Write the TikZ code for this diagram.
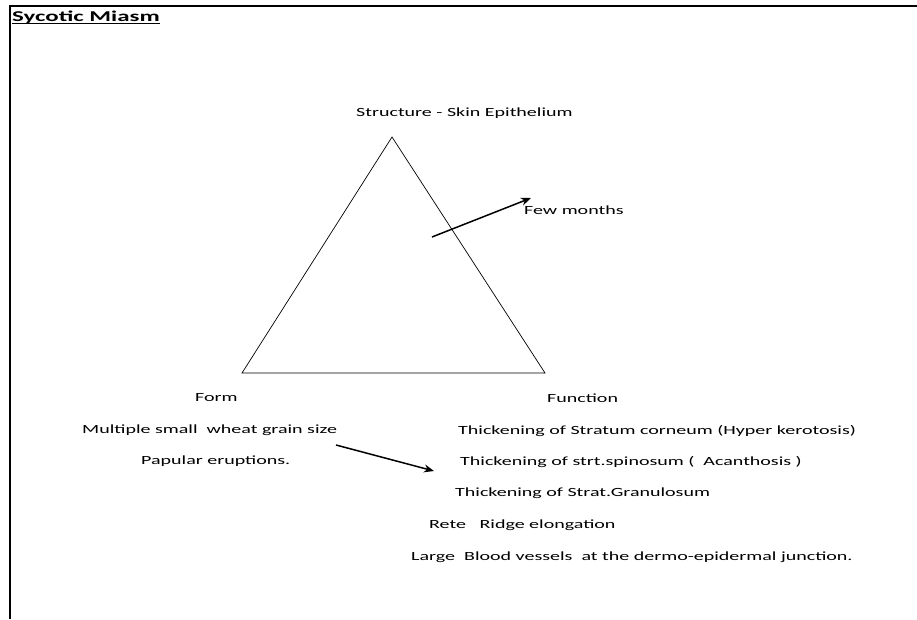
\documentclass[tikz,border=0pt]{standalone}
\usepackage{fontspec}
\setmainfont{Carlito}[FakeStretch=1.6]
\newfontfamily\titlefont{Carlito}[FakeStretch=1.66]
\usetikzlibrary{arrows.meta}
\begin{document}
\begin{tikzpicture}[x=1pt,y=-1pt,
  lbl/.style={anchor=west,inner sep=0pt,font=\fontsize{12.5}{14}\selectfont},
  arr/.style={line width=1.5pt,-{Stealth[length=10pt,width=8pt]}},
  tri/.style={line width=0.7pt}]
\useasboundingbox (0,0) rectangle (917,619);
\fill[white] (0,0) rectangle (917,619);
\draw[line width=1.6pt] (10,619) -- (10,6) -- (917,6);
\node[anchor=west,inner sep=0pt,font=\titlefont\bfseries\fontsize{15}{17}\selectfont] (title) at (12,17) {Sycotic Miasm};
\draw[line width=1.3pt] ([yshift=-2.5pt]title.base west) -- ([yshift=-2.5pt]title.base east);
\node[lbl] (struct) at (356,113) {Structure - Skin Epithelium};
\coordinate (apex) at (392,137);
\coordinate (left) at (242,373);
\coordinate (right) at (545,373);
\draw[tri] (apex) -- (left) -- (right) -- cycle;
\coordinate (a1) at (432,237);
\coordinate (a2) at (531,198);
\draw[arr] (a1) -- (a2);
\node[lbl] (few) at (524,210) {Few months};
\node[lbl] (form) at (195,398) {Form};
\node[lbl] (func) at (547,398) {Function};
\node[lbl] (m1) at (82,430) {Multiple small\ \ wheat grain size};
\node[lbl] (m2) at (141,461) {Papular eruptions.};
\node[lbl] (t1) at (458,431) {Thickening of Stratum corneum (Hyper kerotosis)};
\node[lbl] (t2) at (460,462) {Thickening of strt.spinosum (\ \ Acanthosis )};
\node[lbl] (t3) at (455,493) {Thickening of Strat.Granulosum};
\node[lbl] (t4) at (429,525) {Rete\ \ \ Ridge elongation};
\node[lbl] (t5) at (411,557) {Large\ \ Blood vessels\ \ at the dermo-epidermal junction.};
\coordinate (b1) at (336,445);
\coordinate (b2) at (434,471);
\draw[arr] (b1) -- (b2);
\end{tikzpicture}
\end{document}
